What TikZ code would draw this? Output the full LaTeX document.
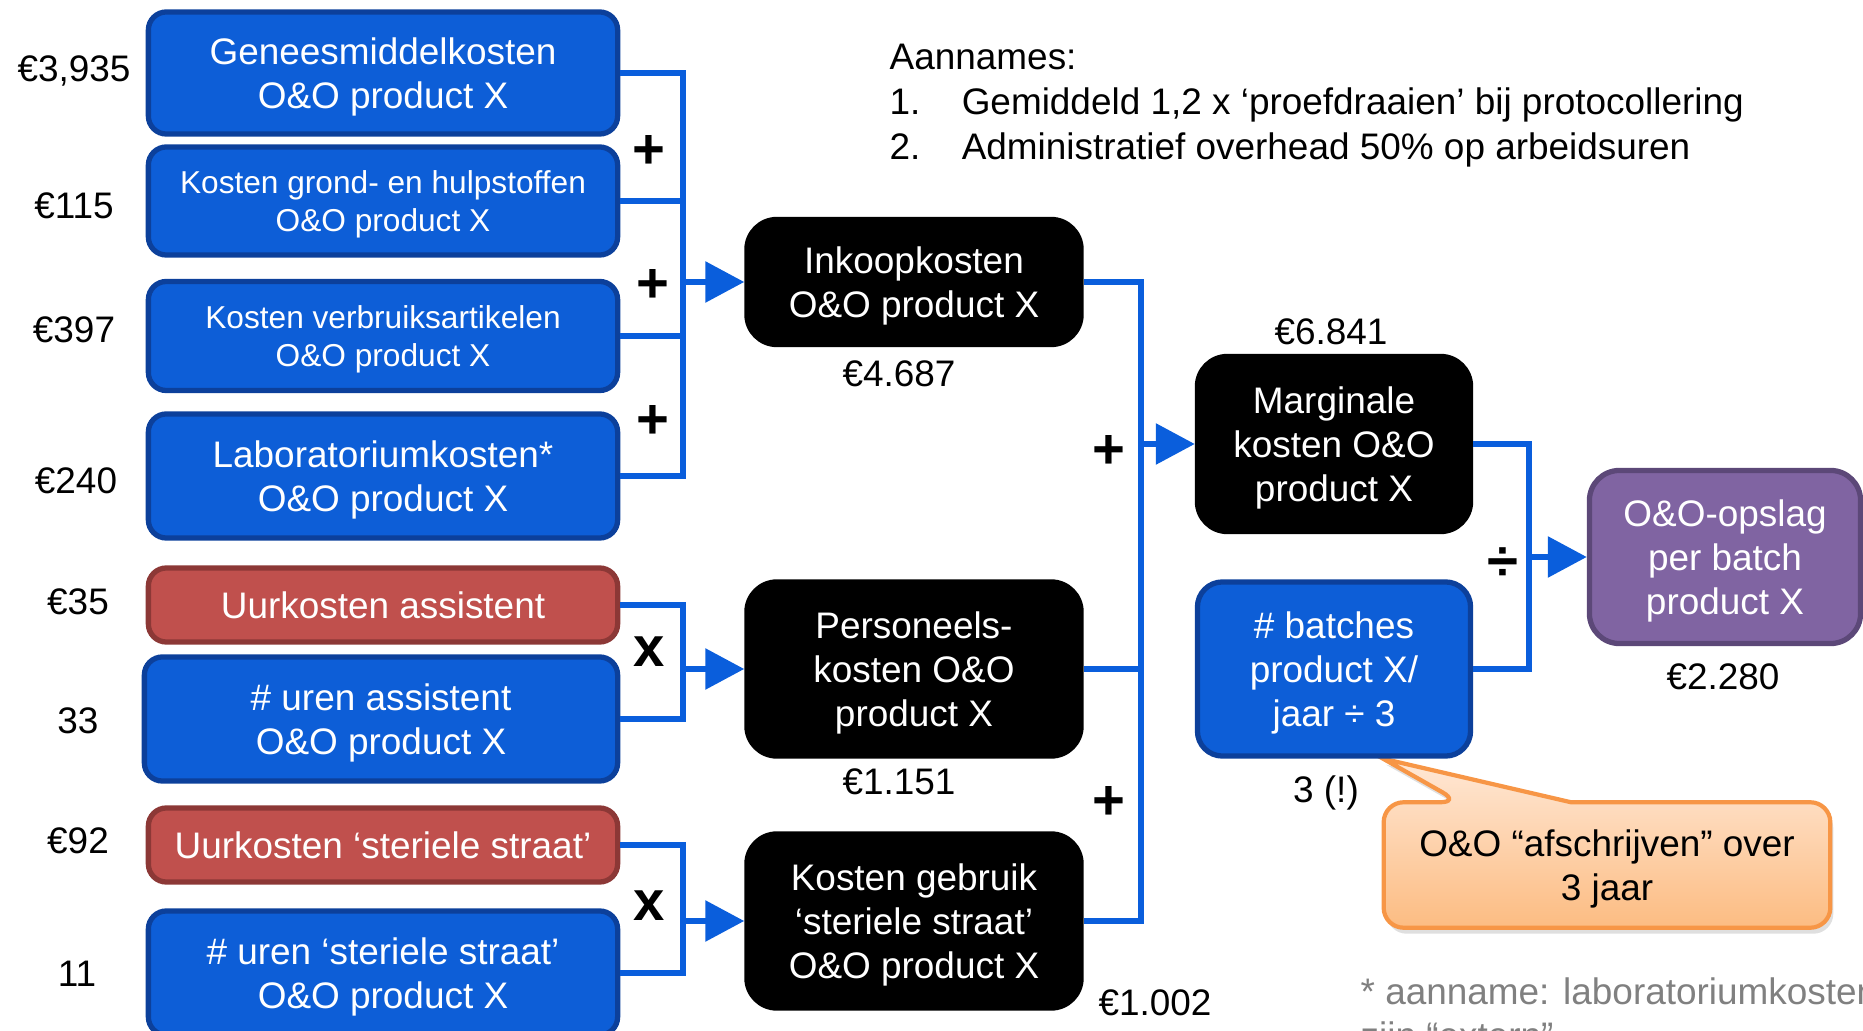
\documentclass[tikz,border=0pt]{standalone}
\usepackage{fontspec}
\setmainfont{Liberation Sans}
\usetikzlibrary{arrows.meta,positioning,shadows,backgrounds}
\definecolor{boxblue}{RGB}{13,94,215}
\definecolor{boxblueline}{RGB}{12,64,155}
\definecolor{linkblue}{RGB}{10,94,220}
\definecolor{boxred}{RGB}{192,80,77}
\definecolor{boxredline}{RGB}{140,56,54}
\definecolor{boxpurple}{RGB}{128,100,162}
\definecolor{boxpurpleline}{RGB}{92,72,120}
\definecolor{calloutline}{RGB}{247,150,70}
\definecolor{callouttop}{RGB}{255,232,214}
\definecolor{calloutbottom}{RGB}{252,188,130}
\definecolor{notegray}{RGB}{128,128,128}
\tikzset{
  link/.style={draw=linkblue, line width=1.7pt},
  flow/.style={link, -{Triangle[length=0.39cm,width=0.40cm]}}
  }

\begin{document}
\begin{tikzpicture}[
    x=0.01cm, y=-0.01cm,
    box/.style={%
        rectangle, rounded corners=0.18cm, align=center, text=white,
        inner sep=0pt, line width=1.5pt,
        font=\fontsize{10.5}{12.5}\selectfont},
    lift/.style={text depth=-2.6pt},
    small/.style={font=\fontsize{9}{10.8}\selectfont},
    costbox/.style={%
        box, lift, fill=boxblue, draw=boxblueline, minimum width=4.69cm},
    ratebox/.style={%
        box, fill=boxred, draw=boxredline,
        minimum width=4.69cm, minimum height=0.74cm},
    sumbox/.style={%
        box, lift, fill=black, draw=black, rounded corners=0.3cm,
        minimum width=3.34cm},
    endbox/.style={%
        box, lift, fill=boxpurple, draw=boxpurpleline, rounded corners=0.3cm,
        minimum width=2.71cm, minimum height=1.73cm},
    val/.style={inner sep=0pt, font=\fontsize{10.5}{12.5}\selectfont},
    op/.style={inner sep=0pt, font=\fontsize{16}{16}\selectfont\bfseries},
    callout/.style={%
        draw=calloutline, line width=1.2pt,
        top color=callouttop, bottom color=calloutbottom,
        drop shadow={opacity=0.25, shadow xshift=0.03cm, shadow yshift=-0.06cm}},
]
    \useasboundingbox (0,0) rectangle (1863,1031);

    % Inputs
    \node[costbox, minimum height=1.22cm] (gm) at (383,73) {Geneesmiddelkosten\\O\&O product X};
    \node[costbox, small, minimum height=1.08cm] (gh) at (383,201) {Kosten grond- en hulpstoffen\\O\&O product X};
    \node[costbox, small, minimum height=1.09cm] (va) at (383,336) {Kosten verbruiksartikelen\\O\&O product X};
    \node[costbox, minimum height=1.24cm] (lab) at (383,476) {Laboratoriumkosten*\\O\&O product X};
    \node[ratebox] (ua) at (383,605) {Uurkosten assistent};
    \node[costbox, minimum height=1.24cm, minimum width=4.73cm] (na) at (381,719) {\# uren assistent\\O\&O product X};
    \node[ratebox] (us) at (383,845) {Uurkosten ‘steriele straat’};
    \node[costbox, minimum height=1.24cm] (ns) at (383,973) {\# uren ‘steriele straat’\\O\&O product X};

    % Input values
    \node[val] (v-gm) at (74,71) {€3,935};
    \node[val] (v-gh) at (74,206) {€115};
    \node[val] (v-va) at (74,330) {€397};
    \node[val] (v-lab) at (76,481) {€240};
    \node[val] (v-ua) at (78,602) {€35};
    \node[val] (v-na) at (78,721) {33};
    \node[val] (v-us) at (78,841) {€92};
    \node[val] (v-ns) at (77,974) {11};

    % Subtotals
    \node[sumbox, minimum height=1.25cm] (ink) at (914,282) {Inkoopkosten\\O\&O product X};
    \node[sumbox, minimum height=1.74cm] (pers) at (914,669) {Personeels-\\kosten O\&O\\product X};
    \node[sumbox, minimum height=1.74cm] (ster) at (914,921) {Kosten gebruik\\‘steriele straat’\\O\&O product X};
    \node[val] (v-ink) at (899,374) {€4.687};
    \node[val] (v-pers) at (899,782) {€1.151};
    \node[val] (v-ster) at (1155,1003) {€1.002};

    % Totals
    \node[sumbox, minimum width=2.73cm, minimum height=1.75cm] (marg) at (1334,444) {Marginale\\kosten O\&O\\product X};
    \node[costbox, minimum width=2.73cm, minimum height=1.74cm, rounded corners=0.25cm] (bat) at (1334,669) {\# batches\\product X/\\jaar ÷ 3};
    \node[endbox] (opsl) at (1725,557) {O\&O-opslag\\per batch\\product X};
    \node[val] (v-marg) at (1331,332) {€6.841};
    \node[val] (v-bat) at (1326,793) {3 (!)};
    \node[val] (v-opsl) at (1723,677) {€2.280};

    % Connectors
    \coordinate (j1) at (683,282);
    \draw[link] (gm.east) -| (j1) |- (lab.east);
    \draw[link] (gh.east) -- (gh.east -| j1);
    \draw[link] (va.east) -- (va.east -| j1);
    \draw[flow] (j1) -- (ink.west);

    \coordinate (j2) at (683,669);
    \draw[link] (ua.east) -| (j2) |- (na.east);
    \draw[flow] (j2) -- (pers.west);

    \coordinate (j3) at (683,921);
    \draw[link] (us.east) -| (j3) |- (ns.east);
    \draw[flow] (j3) -- (ster.west);

    \coordinate (j4) at (1141,444);
    \draw[link] (ink.east) -| (j4) |- (ster.east);
    \draw[link] (pers.east) -- (pers.east -| j4);
    \draw[flow] (j4) -- (marg.west);

    \coordinate (j5) at (1529,557);
    \draw[link] (marg.east) -| (j5) |- (bat.east);
    \draw[flow] (j5) -- (opsl.west);

    % Operators
    \node[op] (p1) at (649,152) {+};
    \node[op] (p2) at (653,286) {+};
    \node[op] (p3) at (653,422) {+};
    \node[op] (x1) at (649,652) {x};
    \node[op] (x2) at (649,906) {x};
    \node[op] (p4) at (1109,452) {+};
    \node[op] (p5) at (1109,803) {+};
    \node[op] (d1) at (1503,564) {÷};

    % Assumptions and note
    \node[val, anchor=west, align=left, font=\fontsize{10.5}{12.8}\selectfont] (aann) at (889,106)
        {Aannames:\\\makebox[0.72cm][l]{1.}Gemiddeld 1,2 x ‘proefdraaien’ bij protocollering\\\makebox[0.72cm][l]{2.}Administratief overhead 50\% op arbeidsuren};
    \node[val, anchor=west, align=left, text=notegray] (note) at (1360,1017)
        {* aanname: laboratoriumkosten\\zijn “extern”};

    % Callout
    \node[val, lift, align=center, minimum width=4.45cm, minimum height=1.24cm] (co) at (1607,865) {O\&O “afschrijven” over\\3 jaar};
    \coordinate (tip) at ([xshift=0.49cm]bat.south);
    \begin{scope}[on background layer]
        \path[callout] (co.north -| 1571,0) [rounded corners=0.2cm] -- (co.north east) -- (co.south east)
            -- (co.south west) -- (co.north west) -- (co.north -| 1460,0) [sharp corners] -- (tip) -- cycle;
    \end{scope}
\end{tikzpicture}
\end{document}
